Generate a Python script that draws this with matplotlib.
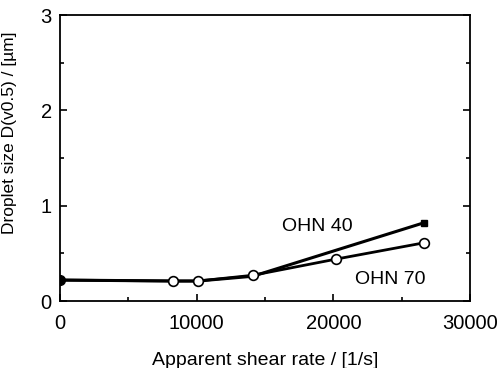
import matplotlib.pyplot as plt
from matplotlib.ticker import MultipleLocator

# OHN 70 (open circles) and OHN 40 (filled squares)
shear_70 = [0, 8300, 10100, 14100, 20200, 26600]
size_70 = [0.22, 0.21, 0.21, 0.27, 0.44, 0.61]
shear_40 = [0, 8300, 10100, 14100, 26600]
size_40 = [0.22, 0.21, 0.21, 0.26, 0.82]

plt.rcParams['font.family'] = ['Liberation Sans', 'DejaVu Sans']

fig = plt.figure(figsize=(4.98, 3.68), dpi=100)
ax = fig.add_axes([0.1205, 0.182, 0.8235, 0.777])

ax.plot(shear_40, size_40, color='black', lw=2.2, marker='s', ms=4,
        markevery=[4], mfc='black')
ax.plot(shear_70, size_70, color='black', lw=2.0, marker='o', ms=7,
        mfc='white', mew=1.2, markevery=[1, 2, 3, 4, 5])
ax.plot(shear_70[0], size_70[0], 'o', color='black', ms=7)

ax.text(16250, 0.78, 'OHN 40', fontsize=14, va='center')
ax.text(21550, 0.23, 'OHN 70', fontsize=14, va='center')

ax.set_xlim(0, 30000)
ax.set_ylim(0, 3)
ax.xaxis.set_major_locator(MultipleLocator(10000))
ax.xaxis.set_minor_locator(MultipleLocator(5000))
ax.yaxis.set_major_locator(MultipleLocator(1))
ax.yaxis.set_minor_locator(MultipleLocator(0.5))
ax.tick_params(which='both', direction='in', right=True, top=False,
               labelsize=14.5, width=1.2)
ax.tick_params(which='major', length=5)
ax.tick_params(which='minor', length=3)
ax.tick_params(axis='x', pad=9)
ax.tick_params(axis='y', pad=6)
for s in ax.spines.values():
    s.set_linewidth(1.3)

ax.set_xlabel('Apparent shear rate / [1/s]', fontsize=14, labelpad=14)
ax.set_ylabel('Droplet size D(v0.5) / [\u00b5m]', fontsize=12.5)
ax.yaxis.set_label_coords(-0.105, 0.59)

fig.savefig('out.png', dpi=100)
